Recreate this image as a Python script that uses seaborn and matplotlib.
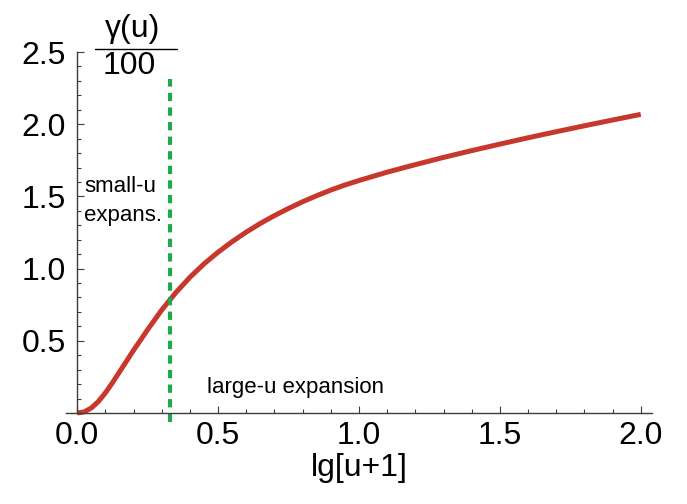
import matplotlib
matplotlib.use('Agg')
import matplotlib.pyplot as plt
import seaborn as sns
from matplotlib.lines import Line2D
from matplotlib.ticker import MultipleLocator

# values
lg_u1 = [0, 0.025, 0.05, 0.075, 0.1, 0.125, 0.15, 0.175, 0.2, 0.25, 0.3, 0.35, 0.4,
         0.45, 0.5, 0.55, 0.6, 0.65, 0.7, 0.75, 0.8, 0.85, 0.9, 0.95, 1.0,
         1.1, 1.2, 1.3, 1.4, 1.5, 1.6, 1.7, 1.8, 1.9, 2.0]
gamma_100 = [0, 0.008, 0.035, 0.08, 0.14, 0.21, 0.285, 0.36, 0.435, 0.578, 0.714, 0.834, 0.94,
             1.033, 1.114, 1.187, 1.253, 1.313, 1.367, 1.417, 1.463, 1.505, 1.544, 1.579, 1.61,
             1.668, 1.72, 1.77, 1.817, 1.862, 1.906, 1.948, 1.989, 2.029, 2.068]
split_x = 0.33
xticks = [0.0, 0.5, 1.0, 1.5, 2.0]
yticks = [0.5, 1.0, 1.5, 2.0, 2.5]

sns.set_style('ticks')
plt.rcParams['font.family'] = ['Liberation Sans', 'DejaVu Sans']
plt.rcParams['text.color'] = 'black'
plt.rcParams['xtick.labelcolor'] = 'black'
plt.rcParams['ytick.labelcolor'] = 'black'
plt.rcParams['axes.labelcolor'] = 'black'

red = '#c8372b'
green = '#21a84b'
axcol = '#3c3c3c'

fig = plt.figure(figsize=(6.87, 5.04), dpi=100)
ax = fig.add_axes([66/687, 1-413/504, 586/687, 361/504])

sns.lineplot(x=lg_u1, y=gamma_100, ax=ax, color=red, lw=3.6, clip_on=False,
             solid_capstyle='butt', solid_joinstyle='round')
ax.plot([split_x, split_x], [-0.065, 2.31], color=green, lw=3, dashes=(2.0, 1.5), clip_on=False)

ax.set_xlim(-0.04, 2.04)
ax.set_ylim(0, 2.5)

for s in ['top', 'right']:
    ax.spines[s].set_visible(False)
ax.spines['left'].set_position(('data', 0))
ax.spines['left'].set_bounds(0, 2.5)
for s in ['left', 'bottom']:
    ax.spines[s].set_color(axcol)
    ax.spines[s].set_linewidth(1.0)

ax.set_xticks(xticks)
ax.set_xticklabels(['%.1f' % v for v in xticks])
ax.set_yticks(yticks)
ax.set_yticklabels(['%.1f' % v for v in yticks])
ax.xaxis.set_minor_locator(MultipleLocator(0.1))
ax.yaxis.set_minor_locator(MultipleLocator(0.1))
ax.tick_params(which='major', direction='in', length=4.7, width=0.8, color=axcol, labelsize=23)
ax.tick_params(which='minor', direction='in', length=2.8, width=0.8, color=axcol)
ax.tick_params(axis='x', which='major', pad=6)
ax.tick_params(axis='y', which='major', pad=8)

ax.set_xlabel('lg[u+1]', fontsize=23, labelpad=1)

# fraction label above the y axis
fig.text(133/687, 1-29/504, 'γ(u)', fontsize=23, ha='center', va='center')
fig.add_artist(Line2D([95/687, 177/687], [1-49/504, 1-49/504], color='black', lw=1.0))
fig.text(129/687, 1-66/504, '100', fontsize=23, ha='center', va='center')

ax.text(0.025, 1.57, 'small-u', fontsize=16, ha='left', va='center')
ax.text(0.025, 1.37, 'expans.', fontsize=16, ha='left', va='center')
ax.text(0.46, 0.175, 'large-u expansion', fontsize=16, ha='left', va='center')

fig.savefig('out.png', dpi=100)
